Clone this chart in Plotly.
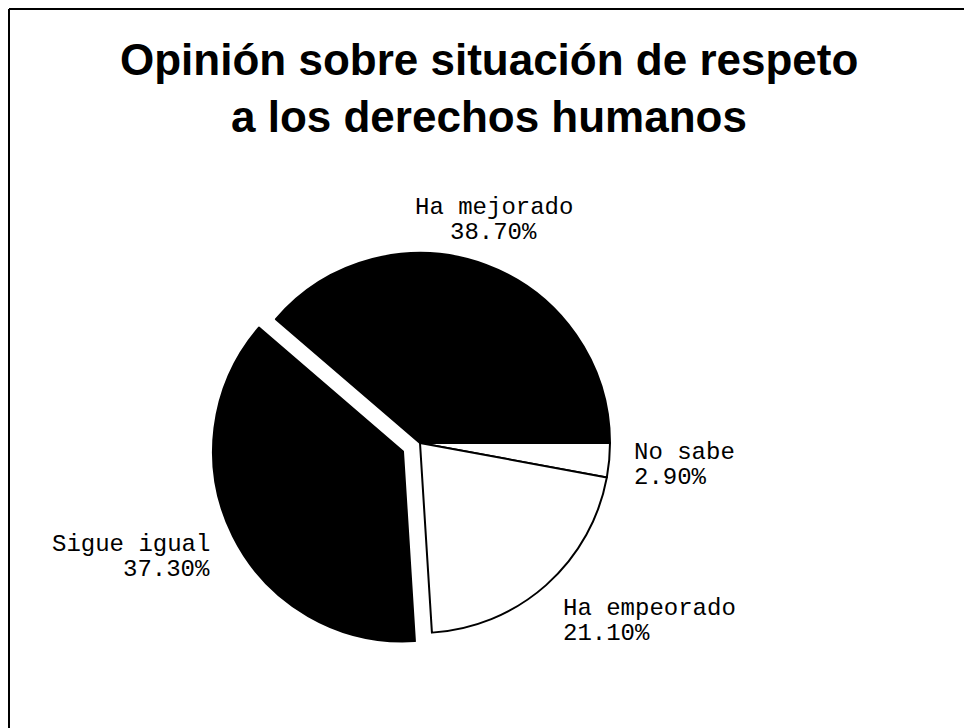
import math
import plotly.graph_objects as go

# encuesta: opinion sobre derechos humanos (porcentajes), clockwise from 3 o'clock
labels = ["No sabe", "Ha empeorado", "Sigue igual", "Ha mejorado"]
values = [2.9, 21.1, 37.3, 38.7]
colors = ["#ffffff", "#ffffff", "#000000", "#000000"]
pull = [0, 0, 0.1, 0]

title_lines = ["Opinión sobre situación de respeto", "a los derechos humanos"]

W, H = 972, 728
OFF = 8  # page body margin shifts the plot by 8px


def fx(x):
    return (x - OFF) / W


def fy(y):
    return 1 - (y - OFF) / H


# pie centre / radius in reference pixels
cx, cy, r = 420, 443, 190
half = r * (1 + max(pull))
rotation = 90

fig = go.Figure(
    go.Pie(
        labels=labels,
        values=values,
        sort=False,
        direction="clockwise",
        rotation=rotation,
        pull=pull,
        marker=dict(colors=colors, line=dict(color="#000000", width=2)),
        textinfo="none",
        hoverinfo="label+percent",
        domain=dict(x=[fx(cx - half), fx(cx + half)], y=[fy(cy + half), fy(cy - half)]),
        showlegend=False,
    )
)

annotations = []

# slice labels placed outside each slice, along its middle angle
# (two lines, tighter than plotly's own line spacing)
label_font = dict(family="Courier New, Liberation Mono, monospace", size=24, color="#000000")
line_gap = 25
total = sum(values)
start = 0.0
for lab, v, p in zip(labels, values, pull):
    mid = math.radians(90 - rotation) - 2 * math.pi * (start + v / 2) / total
    start += v
    dx, dy = math.cos(mid), -math.sin(mid)
    x = cx + (1.12 + p) * r * dx
    y = cy + (1.17 + p) * r * dy + 15 * dy
    if dx > 0.5:
        anchor = "left"
    elif dx < -0.5:
        anchor = "right"
    else:
        anchor = "center"
    for j, txt in enumerate([lab, f"{v / total * 100:.2f}%"]):
        annotations.append(dict(
            text=txt, xref="paper", yref="paper",
            x=fx(x), y=fy(y + (j - 0.5) * line_gap), xanchor=anchor, yanchor="middle",
            showarrow=False, font=label_font,
        ))

title_font = dict(family="Arial, Liberation Sans, sans-serif", size=44, color="#000000", weight="bold")
for i, line in enumerate(title_lines):
    annotations.append(dict(
        text=line, xref="paper", yref="paper", x=fx(489), y=fy(86 + i * 57),
        xanchor="center", yanchor="bottom", showarrow=False, font=title_font,
    ))

fig.update_layout(
    width=W,
    height=H,
    margin=dict(l=0, r=0, t=0, b=0),
    paper_bgcolor="#ffffff",
    plot_bgcolor="#ffffff",
    annotations=annotations,
    shapes=[
        # frame of the scanned page
        dict(type="line", xref="paper", yref="paper", x0=fx(9), x1=fx(9), y0=0, y1=fy(9),
             line=dict(color="#000000", width=2)),
        dict(type="line", xref="paper", yref="paper", x0=fx(9), x1=fx(966), y0=fy(9), y1=fy(9),
             line=dict(color="#000000", width=2)),
    ],
)

fig.write_html("out.html")
